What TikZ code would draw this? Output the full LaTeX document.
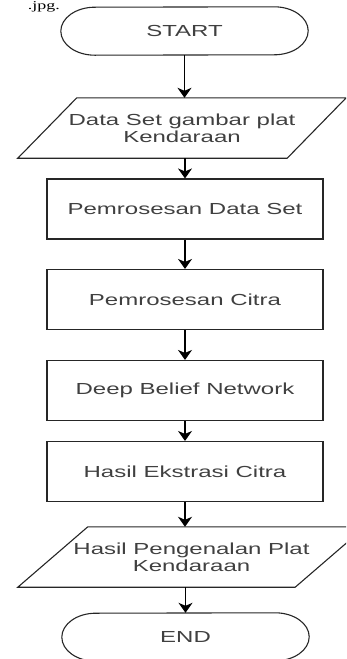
\documentclass[tikz,border=0pt]{standalone}
\usepackage{fontspec}
\setmainfont{Liberation Serif}
\newfontfamily\flowfont{Liberation Sans}[FakeStretch=1.5]
\newfontfamily\capfont{Liberation Serif}[FakeStretch=1.5]
\usetikzlibrary{arrows.meta}

% outline of a start/end block (half ellipses at both ends)
\newcommand{\termline}[1]{\draw[outline] ([xshift=-34pt]#1.north east) arc[start angle=90,end angle=-90,x radius=34pt,y radius=24pt] -- ([xshift=34pt]#1.south west) arc[start angle=270,end angle=90,x radius=34pt,y radius=24pt] -- cycle;}
% outline of an input/output block, #2 = half the slant
\newcommand{\ioline}[2]{\draw[outline] ([xshift=-#2]#1.south west) -- ([xshift=-#2]#1.south east) -- ([xshift=#2]#1.north east) -- ([xshift=#2]#1.north west) -- cycle;}

\tikzset{
  outline/.style={draw=black!85,line width=1.1pt},
  flow/.style={font={\fontsize{16}{17}\selectfont\flowfont},text=black!75,align=center,inner sep=0pt},
  term/.style={flow,minimum width=247pt,minimum height=48pt},
  io/.style={flow,minimum width=269pt,minimum height=60pt},
  proses/.style={flow,outline,minimum width=276pt,minimum height=60pt},
  panah/.style={->,line width=1.1pt}
}

\begin{document}
\begin{tikzpicture}[x=1pt,y=-1pt,>={Stealth[length=10pt,width=14pt,inset=3pt]}]
\useasboundingbox (0,0) rectangle (346,659);
\clip (0,0) rectangle (346,659);
\node[font={\fontsize{12}{12}\selectfont\capfont},anchor=base east,inner sep=0pt] (cap) at (60,9) {.jpg.}; % sisa keterangan di atas
% blok-blok
\node[term] (start) at (184.5,31) {START};
\node[io] (data) at (182,128) {Data Set gambar plat\\Kendaraan};
\node[proses] (prosesdata) at (185,209) {Pemrosesan Data Set};
\node[proses] (prosescitra) at (185,299.5) {Pemrosesan Citra};
\node[proses] (dbn) at (185,390.5) {Deep Belief Network};
\node[proses] (ekstrasi) at (185,471.5) {Hasil Ekstrasi Citra};
\node[io,minimum width=277pt] (hasil) at (191.5,557) {Hasil Pengenalan Plat\\Kendaraan};
\node[term] (end) at (185.5,637) {END};
\termline{start}
\termline{end}
\ioline{data}{29.5pt}
\ioline{hasil}{35pt}
% panah
\draw[panah] (start.south) -- (start.south |- data.north);
\draw[panah] (prosesdata.north |- data.south) -- (prosesdata.north);
\draw[panah] (prosesdata) -- (prosescitra);
\draw[panah] (prosescitra) -- (dbn);
\draw[panah] (dbn) -- (ekstrasi);
\draw[panah] (ekstrasi.south) -- (ekstrasi.south |- hasil.north);
\draw[panah] (end.north |- hasil.south) -- (end.north);
\end{tikzpicture}
\end{document}
